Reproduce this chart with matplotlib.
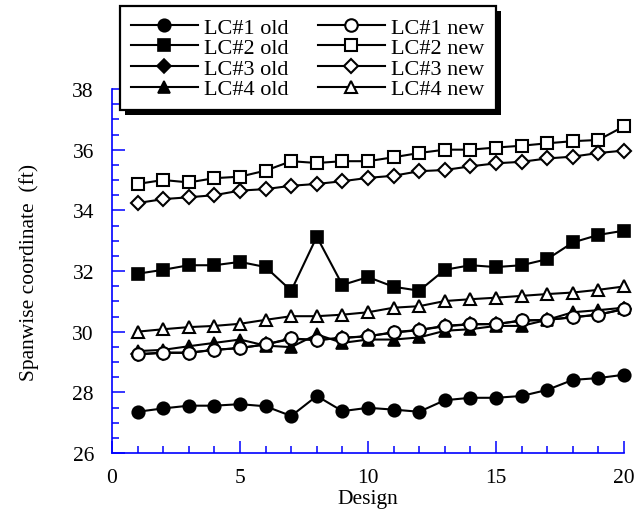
import matplotlib
matplotlib.use('Agg')
import matplotlib.pyplot as plt
from matplotlib.ticker import MultipleLocator
from matplotlib.patches import Rectangle

plt.rcParams['font.family'] = ['Liberation Serif', 'DejaVu Serif']

design = list(range(1, 21))

lc1_old = [27.36, 27.47, 27.56, 27.56, 27.61, 27.54, 27.22, 27.88, 27.38, 27.49,
           27.43, 27.36, 27.74, 27.82, 27.82, 27.88, 28.08, 28.41, 28.47, 28.58]
lc2_old = [31.91, 32.04, 32.19, 32.19, 32.30, 32.13, 31.35, 33.13, 31.54, 31.80,
           31.48, 31.35, 32.04, 32.19, 32.13, 32.19, 32.39, 32.94, 33.19, 33.33]
lc3_old = [29.26, 29.31, 29.31, 29.40, 29.46, 29.58, 29.76, 29.73, 29.79, 29.85,
           29.97, 30.05, 30.18, 30.24, 30.25, 30.36, 30.39, 30.48, 30.56, 30.74]
lc4_old = [29.36, 29.40, 29.52, 29.63, 29.74, 29.54, 29.49, 29.91, 29.63, 29.74,
           29.74, 29.81, 30.03, 30.08, 30.19, 30.19, 30.39, 30.64, 30.71, 30.79]
lc1_new = [29.25, 29.30, 29.30, 29.40, 29.46, 29.58, 29.78, 29.72, 29.80, 29.85,
           29.98, 30.06, 30.19, 30.25, 30.25, 30.37, 30.39, 30.47, 30.56, 30.75]
lc2_new = [34.87, 35.00, 34.92, 35.06, 35.11, 35.31, 35.62, 35.56, 35.62, 35.62,
           35.75, 35.89, 36.00, 36.00, 36.07, 36.13, 36.21, 36.28, 36.32, 36.77]
lc3_new = [34.24, 34.37, 34.43, 34.50, 34.65, 34.70, 34.81, 34.87, 34.96, 35.07,
           35.14, 35.29, 35.33, 35.45, 35.55, 35.60, 35.71, 35.77, 35.89, 35.97]
lc4_new = [30.00, 30.08, 30.15, 30.19, 30.26, 30.39, 30.51, 30.51, 30.56, 30.64,
           30.79, 30.84, 31.01, 31.07, 31.12, 31.18, 31.24, 31.29, 31.38, 31.49]

old_labels = ['LC#1 old', 'LC#2 old', 'LC#3 old', 'LC#4 old']
new_labels = ['LC#1 new', 'LC#2 new', 'LC#3 new', 'LC#4 new']
xlabel = 'Design'
ylabel = 'Spanwise coordinate  (ft)'

FS = 15.5
W, H = 642, 510
fig = plt.figure(figsize=(W / 100, H / 100), dpi=100)
ax = fig.add_axes([112 / W, 56 / H, 512 / W, 364 / H])

markers = ['o', 's', 'D', '^']
msizes = [9, 8.5, 7, 8.5]
handles_old, handles_new = [], []
for vals, m, ms, lab in zip([lc1_old, lc2_old, lc3_old, lc4_old], markers, msizes, old_labels):
    h, = ax.plot(design, vals, marker=m, ms=ms, color='black', mfc='black', mec='black',
                 lw=1.5, mew=1.2, label=lab, clip_on=False)
    handles_old.append(h)
for vals, m, ms, lab in zip([lc1_new, lc2_new, lc3_new, lc4_new], markers, msizes, new_labels):
    h, = ax.plot(design, vals, marker=m, ms=ms, color='black', mfc='white', mec='black',
                 lw=1.5, mew=1.5, label=lab, clip_on=False)
    handles_new.append(h)

ax.set_xlim(0, 20)
ax.set_ylim(26, 38)
ax.xaxis.set_major_locator(MultipleLocator(5))
ax.xaxis.set_minor_locator(MultipleLocator(1))
ax.yaxis.set_major_locator(MultipleLocator(2))
ax.yaxis.set_minor_locator(MultipleLocator(0.5))

for s in ['top', 'right']:
    ax.spines[s].set_visible(False)
for s in ['left', 'bottom']:
    ax.spines[s].set_color('#0000ff')
    ax.spines[s].set_linewidth(1.2)

ax.tick_params(which='both', direction='in', color='#0000ff', width=1.1, labelsize=FS)
ax.tick_params(which='major', length=9, pad=13)
ax.tick_params(which='minor', length=5)
ax.tick_params(axis='x', which='major', pad=11)
ax.set_facecolor('none')

ax.set_xlabel(xlabel, fontsize=FS, labelpad=1)
ax.set_ylabel(ylabel, fontsize=FS, labelpad=24)

leg = fig.legend(handles_old + handles_new, old_labels + new_labels, ncol=2,
                 loc='upper left', bbox_to_anchor=(120 / W, 1 - 7 / H),
                 bbox_transform=fig.transFigure, borderaxespad=0,
                 fontsize=16, handlelength=3.0, handletextpad=0.3,
                 columnspacing=1.3, labelspacing=0.0, borderpad=0.5,
                 fancybox=False, framealpha=1, edgecolor='black')
leg.get_frame().set_linewidth(1.6)
leg.set_zorder(10)

fig.canvas.draw()
bb = leg.get_window_extent()
off = 5
shadow = Rectangle(((bb.x0 + off) / W, (bb.y0 - off) / H), bb.width / W, bb.height / H,
                   transform=fig.transFigure, facecolor='black', edgecolor='none', zorder=9)
fig.patches.append(shadow)

fig.savefig('out.png', dpi=100)
